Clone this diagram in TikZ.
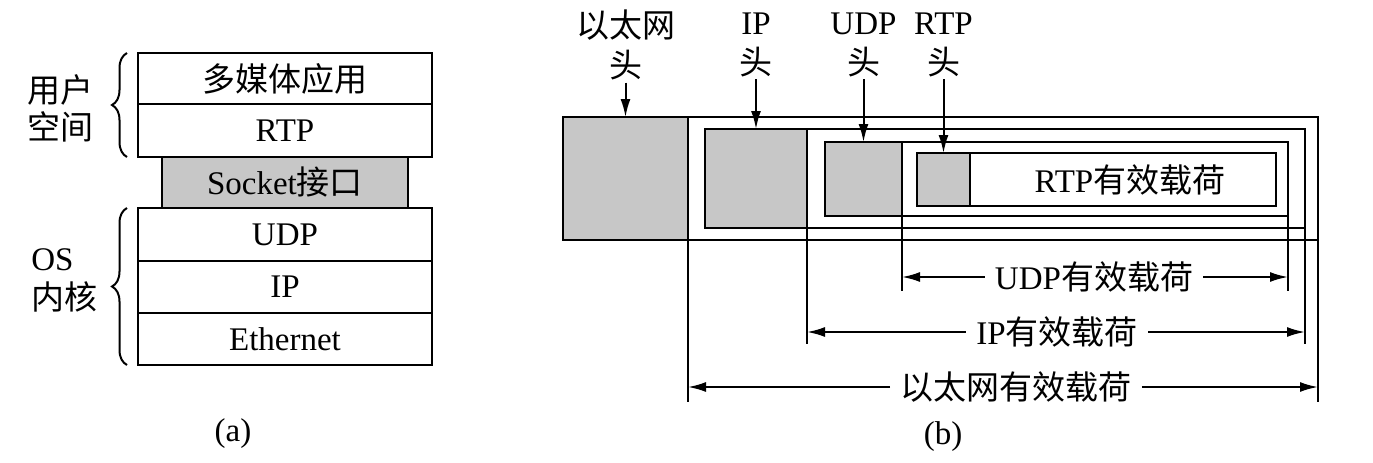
\documentclass[tikz,border=0pt]{standalone}
\usepackage{fontspec}
\setmainfont{Liberation Serif}
\newfontfamily\cjk{Noto Sans CJK SC}
\usetikzlibrary{arrows.meta,decorations.pathreplacing}
\newcommand\bx[6]{\node[#1, minimum width={(#5-#3)*0.5pt}, minimum height={(#6-#4)*0.5pt}] (#2) at ({(#3+#5)/2},{(#4+#6)/2})}
\begin{document}
\begin{tikzpicture}[x=0.5pt,y=-0.5pt,
  every node/.style={font=\fontsize{16.5}{20}\selectfont},
  layer/.style={draw, line width=1.2pt, inner sep=0pt, outer sep=0pt, rectangle},
  hdr/.style={layer, fill=black!22},
  lbl/.style={align=center, inner sep=1pt},
  dimlbl/.style={inner xsep=5pt, inner ysep=0pt},
  arr/.style={line width=1pt, -{Latex[length=9pt,width=5pt]}},
  vline/.style={line width=0.9pt},
  bracestyle/.style={decorate, decoration={brace, amplitude=7.5pt}, line width=1pt}
]
\useasboundingbox (0,0) rectangle (1373,462);
\fill[white] (0,0) rectangle (1373,462);

% ---------- (a) ----------
\bx{layer}{app}{138}{53}{432}{104} {\cjk 多媒体应用};
\bx{layer}{rtp}{138}{104}{432}{157} {RTP};
\bx{hdr}{sock}{162}{157}{408}{208} {Socket{\cjk 接口}};
\bx{layer}{udp}{138}{208}{432}{261} {UDP};
\bx{layer}{ip}{138}{261}{432}{313} {IP};
\bx{layer}{eth}{138}{313}{432}{365} {Ethernet};

\coordinate (ubTop) at (127,53);
\coordinate (ubBot) at (127,157);
\coordinate (obTop) at (127,208);
\coordinate (obBot) at (127,365);
\draw[bracestyle] (ubBot) -- (ubTop);
\draw[bracestyle] (obBot) -- (obTop);

\node[anchor=west, inner sep=0pt] (yh) at (27,90) {\cjk 用户};
\node[anchor=west, inner sep=0pt] (kj) at (27,127) {\cjk 空间};
\node[anchor=west, inner sep=0pt] (os) at (31,260) {OS};
\node[anchor=west, inner sep=0pt] (nh) at (31,297) {\cjk 内核};

\node (capa) at (233,434) {(a)};

% ---------- (b) ----------
\bx{layer}{ethframe}{563}{117}{1318}{240} {};
\bx{hdr}{ethhdr}{563}{117}{688}{240} {};
\bx{layer}{ipframe}{705}{129}{1305}{228} {};
\bx{hdr}{iphdr}{705}{129}{807}{228} {};
\bx{layer}{udpframe}{825}{142}{1288}{216} {};
\bx{hdr}{udphdr}{825}{142}{902}{216} {};
\bx{layer}{rtpframe}{917}{153}{1276}{206} {};
\bx{hdr}{rtphdr}{917}{153}{970}{206} {};
\node (rtppl) at (1130,180) {RTP{\cjk 有效载荷}};

% header labels
\node[lbl] (ethlbl) at (625.5,45) {\cjk 以太网\\\cjk 头};
\node[lbl] (iplbl) at (756,45) {IP\\{\cjk 头}};
\node[lbl] (udplbl) at (863.5,45) {UDP\\{\cjk 头}};
\node[lbl] (rtplbl) at (943.5,45) {RTP\\{\cjk 头}};
\draw[arr] (ethlbl.south) -- (ethhdr.north);
\draw[arr] (iplbl.south) -- (iphdr.north);
\draw[arr] (udplbl.south) -- (udphdr.north);
\draw[arr] (rtplbl.south) -- (rtphdr.north);

% extension lines
\coordinate (e1) at (688,402);
\coordinate (e2) at (807,344);
\coordinate (e3) at (902,291);
\coordinate (e4) at (1288,291);
\coordinate (e5) at (1305,344);
\coordinate (e6) at (1318,402);
\draw[vline] (ethhdr.south east) -- (e1);
\draw[vline] (iphdr.south east) -- (e2);
\draw[vline] (udphdr.south east) -- (e3);
\draw[vline] (udpframe.south east) -- (e4);
\draw[vline] (ipframe.south east) -- (e5);
\draw[vline] (ethframe.south east) -- (e6);

% dimension lines
\node[dimlbl] (udpd) at (1094,277) {UDP{\cjk 有效载荷}};
\node[dimlbl] (ipd) at (1057,332) {IP{\cjk 有效载荷}};
\node[dimlbl] (ethd) at (1016,387) {\cjk 以太网有效载荷};
\coordinate (udpL) at (902,277);
\coordinate (udpR) at (1288,277);
\coordinate (ipL) at (807,332);
\coordinate (ipR) at (1305,332);
\coordinate (ethL) at (688,387);
\coordinate (ethR) at (1318,387);
\draw[arr] (udpd.west) -- (udpL);
\draw[arr] (udpd.east) -- (udpR);
\draw[arr] (ipd.west) -- (ipL);
\draw[arr] (ipd.east) -- (ipR);
\draw[arr] (ethd.west) -- (ethL);
\draw[arr] (ethd.east) -- (ethR);

\node (capb) at (943,437) {(b)};
\end{tikzpicture}
\end{document}
